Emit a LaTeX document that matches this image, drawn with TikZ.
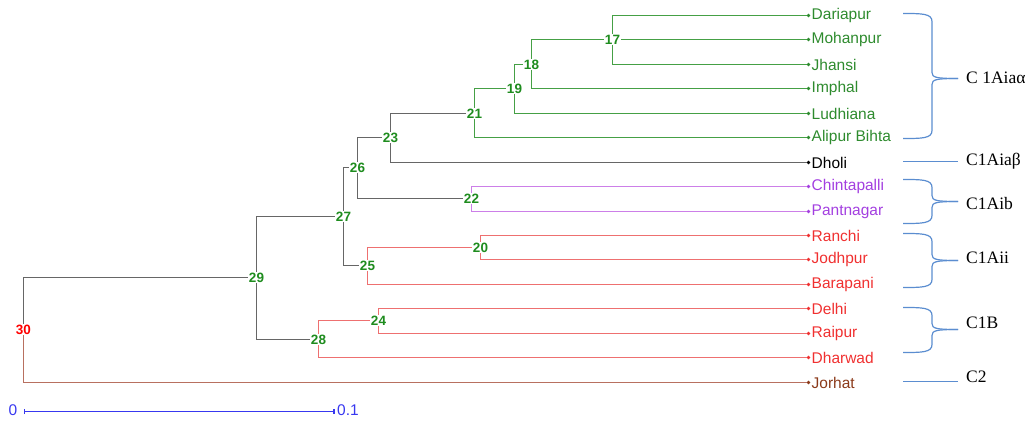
\documentclass[tikz,border=0pt]{standalone}
\usepackage{fontspec}
\setmainfont{Liberation Sans}
\newfontfamily\clfont{Liberation Serif}
\usetikzlibrary{arrows.meta}
\definecolor{lgreen}{HTML}{45A045}
\definecolor{tgreen}{HTML}{2E8B2E}
\definecolor{ngreen}{HTML}{1E8C1E}
\definecolor{lgray}{HTML}{666666}
\definecolor{lpurple}{HTML}{CC7FE8}
\definecolor{tpurple}{HTML}{A33FE0}
\definecolor{lred}{HTML}{EE7070}
\definecolor{tred}{HTML}{F03030}
\definecolor{lbrown}{HTML}{B87060}
\definecolor{tbrown}{HTML}{8B3A1A}
\definecolor{sblue}{HTML}{3838F0}
\definecolor{bblue}{HTML}{5B8DD0}
\newcommand\cbrace[3]{%
  \draw[br] (903,#1) .. controls (922,#1) and (932,#1) .. (932,#1+8) -- (932,#2-6) .. controls (932,#2-1) and (936,#2) .. (958,#2);
  \draw[br] (903,#3) .. controls (922,#3) and (932,#3) .. (932,#3-8) -- (932,#2+6) .. controls (932,#2+1) and (936,#2) .. (958,#2);
}
\begin{document}
\begin{tikzpicture}[x=1pt,y=-1pt,
  leaf/.style={circle, fill, inner sep=0pt, minimum size=3.6pt},
  lname/.style={anchor=west, inner sep=0pt, font=\fontsize{15.5}{16}\selectfont},
  num/.style={fill=white, inner sep=0.8pt, text=ngreen, font=\bfseries\fontsize{13.5}{14}\selectfont},
  edge/.style={line width=1.5pt},
  eg/.style={edge, draw=lgreen},
  egray/.style={edge, draw=lgray},
  epur/.style={edge, draw=lpurple},
  ered/.style={edge, draw=lred},
  ebrown/.style={edge, draw=lbrown},
  br/.style={line width=1.2pt, draw=bblue},
  clab/.style={anchor=west, inner sep=0pt, font=\clfont\fontsize{17.5}{18}\selectfont}
]
\useasboundingbox (0,0) rectangle (1031,425);
% leaves
\node[leaf, tgreen] (Dariapur) at (808.5,15.5) {};
\node[leaf, tgreen] (Mohanpur) at (808.5,39.5) {};
\node[leaf, tgreen] (Jhansi) at (808.5,64.5) {};
\node[leaf, tgreen] (Imphal) at (808.5,88.5) {};
\node[leaf, tgreen] (Ludhiana) at (808.5,113.5) {};
\node[leaf, tgreen] (Alipur) at (808.5,137.5) {};
\node[leaf, black] (Dholi) at (808.5,162.5) {};
\node[leaf, tpurple] (Chintapalli) at (808.5,186.5) {};
\node[leaf, tpurple] (Pantnagar) at (808.5,211.5) {};
\node[leaf, tred] (Ranchi) at (808.5,235.5) {};
\node[leaf, tred] (Jodhpur) at (808.5,259.5) {};
\node[leaf, tred] (Barapani) at (808.5,284.5) {};
\node[leaf, tred] (Delhi) at (808.5,308.5) {};
\node[leaf, tred] (Raipur) at (808.5,333.5) {};
\node[leaf, tred] (Dharwad) at (808.5,357.5) {};
\node[leaf, tbrown] (Jorhat) at (808.5,382.5) {};
% leaf names
\node[lname, text=tgreen] (tDariapur) at (811.5,15.5) {Dariapur};
\node[lname, text=tgreen] (tMohanpur) at (811.5,39.5) {Mohanpur};
\node[lname, text=tgreen] (tJhansi) at (811.5,64.5) {Jhansi};
\node[lname, text=tgreen] (tImphal) at (811.5,88.5) {Imphal};
\node[lname, text=tgreen] (tLudhiana) at (811.5,113.5) {Ludhiana};
\node[lname, text=tgreen] (tAlipur) at (811.5,137.5) {Alipur Bihta};
\node[lname, text=black] (tDholi) at (811.5,162.5) {Dholi};
\node[lname, text=tpurple] (tChintapalli) at (811.5,186.5) {Chintapalli};
\node[lname, text=tpurple] (tPantnagar) at (811.5,211.5) {Pantnagar};
\node[lname, text=tred] (tRanchi) at (811.5,235.5) {Ranchi};
\node[lname, text=tred] (tJodhpur) at (811.5,259.5) {Jodhpur};
\node[lname, text=tred] (tBarapani) at (811.5,284.5) {Barapani};
\node[lname, text=tred] (tDelhi) at (811.5,308.5) {Delhi};
\node[lname, text=tred] (tRaipur) at (811.5,333.5) {Raipur};
\node[lname, text=tred] (tDharwad) at (811.5,357.5) {Dharwad};
\node[lname, text=tbrown] (tJorhat) at (811.5,382.5) {Jorhat};
% internal join points
\coordinate (c17) at (612.5,39.5);
\coordinate (c18) at (531.5,64.5);
\coordinate (c19) at (514.5,88.5);
\coordinate (c21) at (474.5,113.5);
\coordinate (c23) at (390.5,137.5);
\coordinate (c22) at (471.5,198.5);
\coordinate (c26) at (357.5,167.5);
\coordinate (c20) at (480.5,247.5);
\coordinate (c25) at (367.5,265.5);
\coordinate (c27) at (343.5,216.5);
\coordinate (c24) at (378.5,320.5);
\coordinate (c28) at (318.5,339.5);
\coordinate (c29) at (256.5,277.5);
\coordinate (c30) at (23.5,329.5);
% edges
\draw[eg] (c17) |- (Dariapur) (c17) -- (Mohanpur) (c17) |- (Jhansi);
\draw[eg] (c18) |- (c17) (c18) |- (Imphal);
\draw[eg] (c19) |- (c18) (c19) |- (Ludhiana);
\draw[eg] (c21) |- (c19) (c21) |- (Alipur);
\draw[egray] (c23) |- (c21) (c23) |- (Dholi);
\draw[epur] (c22) |- (Chintapalli) (c22) |- (Pantnagar);
\draw[egray] (c26) |- (c23) (c26) |- (c22);
\draw[ered] (c20) |- (Ranchi) (c20) |- (Jodhpur);
\draw[ered] (c25) |- (c20) (c25) |- (Barapani);
\draw[egray] (c27) |- (c26) (c27) |- (c25);
\draw[ered] (c24) |- (Delhi) (c24) |- (Raipur);
\draw[ered] (c28) |- (c24) (c28) |- (Dharwad);
\draw[egray] (c29) |- (c27) (c29) |- (c28);
\draw[egray] (c30) |- (c29);
\draw[ebrown] (c30) |- (Jorhat);
% node numbers
\node[num] (n17) at (c17) {17};
\node[num] (n18) at (c18) {18};
\node[num] (n19) at (c19) {19};
\node[num] (n21) at (c21) {21};
\node[num] (n23) at (c23) {23};
\node[num] (n22) at (c22) {22};
\node[num] (n26) at (c26) {26};
\node[num] (n20) at (c20) {20};
\node[num] (n25) at (c25) {25};
\node[num] (n27) at (c27) {27};
\node[num] (n24) at (c24) {24};
\node[num] (n28) at (c28) {28};
\node[num] (n29) at (c29) {29};
\node[num, text=red] (n30) at (c30) {30};
% scale bar
\coordinate (s0) at (23.5,411.5);
\coordinate (s1) at (334.5,411.5);
\draw[draw=sblue, line width=1.6pt, {Bar[width=5pt]}-{Bar[width=5pt]}] (s0) -- (s1);
\node[text=sblue, font=\fontsize{15.5}{16}\selectfont, inner sep=0pt] (z0) at (13,410) {0};
\node[text=sblue, font=\fontsize{15.5}{16}\selectfont, inner sep=0pt] (z1) at (348,410) {0.1};
% cluster brackets
\cbrace{13.5}{78.5}{138.5}
\cbrace{179.5}{201.5}{223.5}
\cbrace{233.5}{260.5}{287.5}
\cbrace{307.5}{329.5}{352.5}
\draw[br] (903,161.5) -- (958,161.5);
\draw[br] (903,381.5) -- (958,381.5);
\node[clab] (k1) at (966,78) {C 1Aiaα};
\node[clab] (k2) at (966,161) {C1Aiaβ};
\node[clab] (k3) at (966,204) {C1Aib};
\node[clab] (k4) at (966,258) {C1Aii};
\node[clab] (k5) at (966,323) {C1B};
\node[clab] (k6) at (966,377) {C2};
\end{tikzpicture}
\end{document}
